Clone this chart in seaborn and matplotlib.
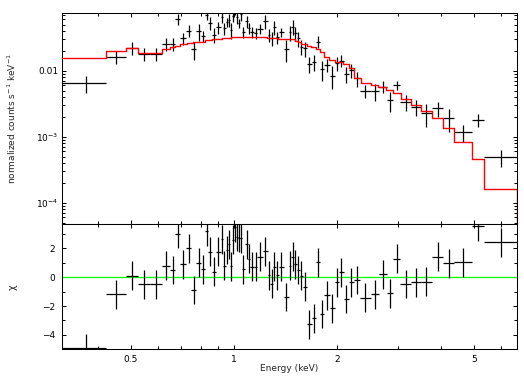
import numpy as np
import pandas as pd
import matplotlib
matplotlib.use("Agg")
import matplotlib.pyplot as plt
import seaborn as sns
from matplotlib.ticker import FixedLocator, LogLocator, NullFormatter, MultipleLocator

# contiguous channel bin edges (keV)
bin_edges = [0.3158, 0.4225, 0.4832, 0.5260, 0.5690, 0.6156, 0.6506, 0.6730, 0.6963, 0.7245,
             0.7493, 0.7774, 0.7988, 0.8233, 0.8417, 0.8603, 0.8861, 0.9134, 0.9307, 0.9445,
             0.9586, 0.9735, 0.9887, 1.0000, 1.0115, 1.0258, 1.0390, 1.0516, 1.0767, 1.0985,
             1.1133, 1.1398, 1.1707, 1.2148, 1.2538, 1.2759, 1.2997, 1.3217, 1.3484, 1.3992,
             1.4421, 1.4694, 1.4963, 1.5216, 1.5546, 1.5841, 1.6270, 1.6848, 1.7377, 1.7814,
             1.8298, 1.8986, 1.9699, 2.0236, 2.0886, 2.1643, 2.2307, 2.3299, 2.5034, 2.6470,
             2.7873, 2.9076, 3.0538, 3.2746, 3.5098, 3.7699, 4.0757, 4.3785, 4.9317, 5.3568,
             6.6711]

# normalized counts s^-1 keV^-1 and 1-sigma errors
flux = [0.00645, 0.0163, 0.0223, 0.0179, 0.0179, 0.0254, 0.0254, 0.0601, 0.0310, 0.0404,
        0.0211, 0.0400, 0.0340, 0.0710, 0.0530, 0.0350, 0.0455, 0.0645, 0.0440, 0.0550,
        0.0590, 0.0410, 0.0680, 0.0850, 0.0650, 0.0533, 0.0723, 0.0386, 0.0560, 0.0444,
        0.0386, 0.0372, 0.0432, 0.0560, 0.0351, 0.0313, 0.0455, 0.0321, 0.0386, 0.0215,
        0.0380, 0.0465, 0.0369, 0.0310, 0.0231, 0.0218, 0.01264, 0.01355, 0.0275, 0.0105,
        0.0122, 0.0084, 0.01294, 0.0142, 0.0089, 0.01025, 0.00767, 0.00498, 0.00492, 0.00573,
        0.0036, 0.00607, 0.00332, 0.00285, 0.00226, 0.00269, 0.0019, 0.00117, 0.00179, 0.000488]
flux_err = [0.0019, 0.0038, 0.0051, 0.0041, 0.0041, 0.0058, 0.0058, 0.0115, 0.0062, 0.0083,
            0.0065, 0.0118, 0.0065, 0.0133, 0.0116, 0.0089, 0.0092, 0.0123, 0.0095, 0.0085,
            0.0123, 0.0110, 0.0140, 0.0160, 0.0137, 0.0082, 0.0150, 0.0078, 0.0110, 0.0090,
            0.0075, 0.0065, 0.0075, 0.0130, 0.0080, 0.0075, 0.0110, 0.0070, 0.0060, 0.0078,
            0.0095, 0.0115, 0.0092, 0.0080, 0.0060, 0.0055, 0.0035, 0.0035, 0.0058, 0.0035,
            0.0028, 0.0032, 0.0030, 0.0030, 0.0025, 0.0025, 0.0020, 0.0011, 0.0014, 0.0012,
            0.0012, 0.0010, 0.0009, 0.0008, 0.00085, 0.0007, 0.00072, 0.00033, 0.00038, 0.00014]

# residuals (data - model) / error
chi = [-4.95, -1.19, 0.11, -0.49, -0.49, 0.79, 0.51, 3.02, 0.91, 2.02,
       -0.89, 1.0, 0.56, 3.2, 1.78, 0.38, 1.78, 2.65, 0.8, 1.9,
       2.3, 0.75, 2.6, 3.46, 2.8, 2.72, 2.7, 0.56, 2.28, 1.3,
       0.72, 0.72, 1.42, 1.8, 0.14, -0.45, 0.72, 0.14, 0.72, -1.37,
       0.8, 1.44, 0.91, 0.51, 0.11, -0.65, -3.26, -2.86, 1.05, -2.56,
       -1.26, -2.16, -0.35, 0.35, -1.51, -0.35, -0.19, -1.42, -1.19, 0.21,
       -1.12, 1.28, -0.47, -0.35, -0.3, 1.44, 0.98, 1.05, 3.53, 2.44]
chi_err = 1.0

# folded model, histogram steps (left edge, value)
model_e = [0.3158, 0.4225, 0.4832, 0.526, 0.6156, 0.6506, 0.673, 0.6963, 0.7278, 0.7607,
           0.787, 0.8233, 0.861, 0.921, 0.978, 1.245, 1.346, 1.425, 1.506, 1.540,
           1.568, 1.629, 1.677, 1.734, 1.781, 1.834, 1.896, 1.970, 2.083, 2.169,
           2.238, 2.341, 2.503, 2.634, 2.774, 2.913, 3.062, 3.275, 3.509, 3.770,
           4.075, 4.378, 4.932, 5.357, 6.6711]
model_v = [0.01542, 0.0201, 0.0218, 0.01875, 0.0211, 0.0226, 0.0237, 0.0251, 0.026, 0.0269,
           0.0275, 0.0292, 0.0302, 0.0316, 0.0327, 0.0316, 0.0305, 0.0299, 0.0285, 0.0269,
           0.0254, 0.0234, 0.0226, 0.0213, 0.019, 0.016, 0.0144, 0.01368, 0.0125, 0.01086,
           0.00783, 0.00645, 0.00614, 0.0056, 0.00505, 0.00455, 0.00377, 0.00305, 0.00243, 0.0019,
           0.00137, 0.00084, 0.000455, 0.0001596, 1e-6]

sns.set_theme(style="ticks")
plt.rcParams['font.family'] = ['DejaVu Sans']
plt.rcParams['font.size'] = 6.5
plt.rcParams['axes.linewidth'] = 0.75

lo = np.array(bin_edges[:-1])
hi = np.array(bin_edges[1:])
df = pd.DataFrame({"lo": lo, "hi": hi, "flux": flux, "err": flux_err, "chi": chi})
df["E"] = (df["lo"] + df["hi"]) / 2
xerr = [df["E"] - df["lo"], df["hi"] - df["E"]]
model = pd.DataFrame({"E": model_e, "model": model_v})

fig = plt.figure(figsize=(5.24, 3.79), dpi=100)
ax1 = fig.add_axes([0.1189, 0.40897, 0.8672, 0.55594])
ax2 = fig.add_axes([0.1189, 0.07784, 0.8672, 0.33113], sharex=ax1)

# top: data + model
ax1.errorbar(df["E"], df["flux"], xerr=xerr, yerr=df["err"], fmt="none",
             ecolor="black", elinewidth=0.9, capsize=0, zorder=3)
sns.lineplot(data=model, x="E", y="model", ax=ax1, color="red", lw=1.0,
             estimator=None, sort=False, drawstyle="steps-post", zorder=4)

# bottom: residuals
ax2.axhline(0, color="#00ff00", lw=0.9, zorder=1)
ax2.errorbar(df["E"], df["chi"], xerr=xerr, yerr=chi_err, fmt="none",
             ecolor="black", elinewidth=0.9, capsize=0, zorder=3)

for ax in (ax1, ax2):
    ax.set_xscale("log")
    ax.set_xlim(bin_edges[0], bin_edges[-1])
    ax.tick_params(which="both", direction="in", top=True, right=True,
                   width=0.75, colors="black", labelsize=6.5)
    ax.tick_params(which="major", length=3.1)
    ax.tick_params(which="minor", length=1.9)
    for s in ax.spines.values():
        s.set_color("black")

ax1.set_yscale("log")
ax1.set_ylim(4.75e-5, 0.0741)
ax1.yaxis.set_major_locator(FixedLocator([1e-4, 1e-3, 1e-2]))
ax1.set_yticklabels(["10$^{-4}$", "10$^{-3}$", "0.01"])
ax1.yaxis.set_minor_locator(LogLocator(base=10, subs=np.arange(2, 10)))
ax1.yaxis.set_minor_formatter(NullFormatter())
ax1.tick_params(axis="y", pad=3)
ax1.tick_params(axis="x", labelbottom=False)
ax1.set_xlabel("")
ax1.set_ylabel("normalized counts s$^{-1}$ keV$^{-1}$", fontsize=6.5)
ax1.yaxis.set_label_coords(-0.097, 0.5)

ax2.set_ylim(-5.02, 3.70)
ax2.yaxis.set_major_locator(MultipleLocator(2))
ax2.yaxis.set_minor_locator(MultipleLocator(1))
ax2.tick_params(axis="y", pad=5)
ax2.xaxis.set_major_locator(FixedLocator([0.5, 1, 2, 5]))
ax2.set_xticklabels(["0.5", "1", "2", "5"])
ax2.xaxis.set_minor_locator(FixedLocator([0.4, 0.6, 0.7, 0.8, 0.9, 3, 4, 6]))
ax2.xaxis.set_minor_formatter(NullFormatter())
ax2.tick_params(axis="x", pad=4)
ax2.set_xlabel("Energy (keV)", fontsize=6.5)
ax2.xaxis.set_label_coords(0.5, -0.115)
ax2.set_ylabel("χ", fontsize=7)
ax2.yaxis.set_label_coords(-0.099, 0.5)

fig.savefig("out.png", dpi=100)
